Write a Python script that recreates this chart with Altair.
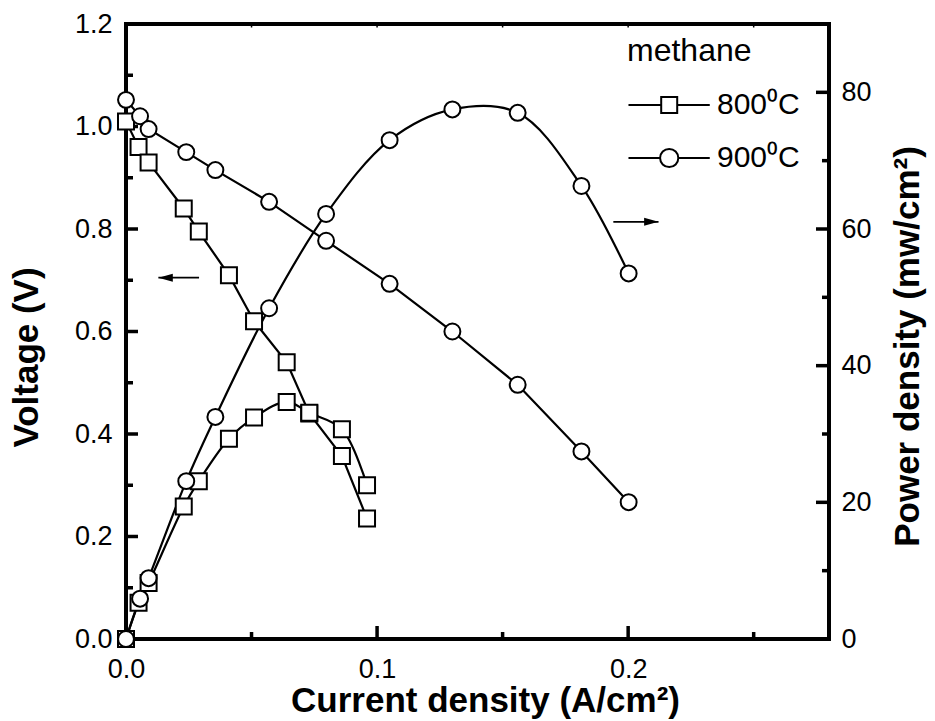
import altair as alt
import pandas as pd

# ---------------- data ----------------
series = ["800⁰C", "900⁰C"]

current_800 = [0.0, 0.005, 0.009, 0.023, 0.029, 0.041, 0.051, 0.064, 0.073, 0.086, 0.096]
voltage_800 = [1.01, 0.96, 0.93, 0.84, 0.795, 0.71, 0.62, 0.54, 0.44, 0.357, 0.235]
power_800 = [0.0, 5.3, 8.2, 19.4, 23.1, 29.3, 32.4, 34.7, 33.1, 30.7, 22.5]

current_900 = [0.0, 0.0056, 0.009, 0.024, 0.0356, 0.057, 0.0797, 0.105, 0.130, 0.156, 0.1814, 0.2002]
voltage_900 = [1.052, 1.02, 0.995, 0.95, 0.915, 0.853, 0.777, 0.693, 0.600, 0.496, 0.366, 0.267]
power_900 = [0.0, 5.9, 8.9, 23.1, 32.5, 48.4, 62.2, 73.0, 77.5, 77.0, 66.3, 53.5]

x_label_values = [0.0, 0.1, 0.2]
v_label_values = [0.0, 0.2, 0.4, 0.6, 0.8, 1.0, 1.2]
p_label_values = [0, 20, 40, 60, 80]

x_major_ticks = [0.1, 0.2]
x_minor_ticks = [0.05, 0.15, 0.25]
x_top_ticks = [0.05, 0.1, 0.15, 0.2, 0.25]
v_major_ticks = [0.2, 0.4, 0.6, 0.8, 1.0]
v_minor_ticks = [0.1, 0.3, 0.5, 0.7, 0.9, 1.1]
p_major_ticks = [20, 40, 60, 80]
p_minor_ticks = [10, 30, 50, 70]

# arrows (annotation, in data coordinates: current, voltage)
arrow_left_start = [0.0129]
arrow_left_end = [0.0291]
arrow_left_v = [0.705]
arrow_right_start = [0.1941]
arrow_right_end = [0.2121]
arrow_right_v = [0.814]

# ---------------- layout / style ----------------
W, H = 703, 615
FONT = "Liberation Sans, Arial, Helvetica, sans-serif"

xscale = alt.Scale(domain=[0, 0.28], nice=False, zero=False)
vscale = alt.Scale(domain=[0, 1.2], nice=False, zero=False)
pscale = alt.Scale(domain=[0, 90], nice=False, zero=False)

xaxis = alt.Axis(
    title="Current density (A/cm²)", values=x_label_values, format=".1f",
    ticks=False, tickSize=0, domain=False, grid=False, labelFlush=False, labelOverlap=False,
    labelPadding=17, labelFont=FONT, labelFontSize=27, labelColor="black",
    titleFont=FONT, titleFontSize=35, titleFontWeight="bold", titleColor="black",
    titleX=359, titleY=72, titleBaseline="alphabetic", titleAlign="center",
)
vaxis = alt.Axis(
    orient="left", title="Voltage (V)", values=v_label_values, format=".1f",
    ticks=False, tickSize=0, domain=False, grid=False, labelFlush=False, labelOverlap=False,
    labelPadding=14, labelFont=FONT, labelFontSize=27, labelColor="black",
    titleFont=FONT, titleFontSize=35, titleFontWeight="bold", titleColor="black",
    titleAngle=270, titleX=-89, titleY=333, titleBaseline="alphabetic", titleAlign="center",
)
paxis = alt.Axis(
    orient="right", title="Power density (mw/cm²)", values=p_label_values, format="d",
    ticks=False, tickSize=0, domain=False, grid=False, labelFlush=False, labelOverlap=False,
    labelPadding=12, labelFont=FONT, labelFontSize=27, labelColor="black",
    titleFont=FONT, titleFontSize=35, titleFontWeight="bold", titleColor="black",
    titleAngle=270, titleX=89, titleY=322, titleBaseline="alphabetic", titleAlign="center",
)


def X(field):
    return alt.X(f"{field}:Q", scale=xscale, axis=xaxis)


def YV(field, axis=None):
    return alt.Y(f"{field}:Q", scale=vscale, axis=axis)


def YP(field, axis=None):
    return alt.Y(f"{field}:Q", scale=pscale, axis=axis)


df800 = pd.DataFrame({"current": current_800, "voltage": voltage_800,
                      "power": power_800, "series": series[0]})
df900 = pd.DataFrame({"current": current_900, "voltage": voltage_900,
                      "power": power_900, "series": series[1]})
df = pd.concat([df800, df900], ignore_index=True)

LINE = dict(color="black", strokeWidth=2.2)
PT = dict(filled=True, fill="white", stroke="black", strokeWidth=2, opacity=1)

v_lines = alt.Chart(df).mark_line(**LINE).encode(
    x=X("current"), y=YV("voltage", vaxis), detail="series:N")
p_lines = alt.Chart(df).mark_line(interpolate="catmull-rom", **LINE).encode(
    x=X("current"), y=YP("power", paxis), detail="series:N")

v_sq = alt.Chart(df800).mark_point(shape="square", size=256, **PT).encode(
    x=X("current"), y=YV("voltage"))
v_ci = alt.Chart(df900).mark_point(shape="circle", size=254, **PT).encode(
    x=X("current"), y=YV("voltage"))
p_sq = alt.Chart(df800).mark_point(shape="square", size=256, **PT).encode(
    x=X("current"), y=YP("power"))
p_ci = alt.Chart(df900).mark_point(shape="circle", size=254, **PT).encode(
    x=X("current"), y=YP("power"))

TICK = dict(color="black", strokeWidth=3.5)
left_major = alt.Chart(pd.DataFrame({"t": v_major_ticks})).mark_rule(**TICK).encode(
    y=YV("t"), x=alt.value(0), x2=alt.value(12))
left_minor = alt.Chart(pd.DataFrame({"t": v_minor_ticks})).mark_rule(**TICK).encode(
    y=YV("t"), x=alt.value(0), x2=alt.value(7))
right_major = alt.Chart(pd.DataFrame({"t": p_major_ticks})).mark_rule(**TICK).encode(
    y=YP("t"), x=alt.value(W), x2=alt.value(W - 13))
right_minor = alt.Chart(pd.DataFrame({"t": p_minor_ticks})).mark_rule(**TICK).encode(
    y=YP("t"), x=alt.value(W), x2=alt.value(W - 7))
bottom_major = alt.Chart(pd.DataFrame({"t": x_major_ticks})).mark_rule(**TICK).encode(
    x=X("t"), y=alt.value(H), y2=alt.value(H - 13))
bottom_minor = alt.Chart(pd.DataFrame({"t": x_minor_ticks})).mark_rule(**TICK).encode(
    x=X("t"), y=alt.value(H), y2=alt.value(H - 7))
top_ticks = alt.Chart(pd.DataFrame({"t": x_top_ticks})).mark_rule(color="black", strokeWidth=1.5).encode(
    x=X("t"), y=alt.value(0), y2=alt.value(3.5))

arrows = pd.DataFrame({
    "a": arrow_left_start + arrow_right_start,
    "b": arrow_left_end + arrow_right_end,
    "v": arrow_left_v + arrow_right_v,
})
arrow_shafts = alt.Chart(arrows).mark_rule(color="black", strokeWidth=1.8).encode(
    x=X("a"), x2="b:Q", y=YV("v"))
head_left = alt.Chart(pd.DataFrame({"a": arrow_left_start, "v": arrow_left_v})).mark_point(
    shape="M0,0L3.6,-1L3.6,1Z", size=64, filled=True, color="black", opacity=1, strokeWidth=0).encode(
    x=X("a"), y=YV("v"))
head_right = alt.Chart(pd.DataFrame({"a": arrow_right_end, "v": arrow_right_v})).mark_point(
    shape="M0,0L-3.6,-1L-3.6,1Z", size=64, filled=True, color="black", opacity=1, strokeWidth=0).encode(
    x=X("a"), y=YV("v"))

# legend symbols: line with the marker in the middle (units of 8 px)
SQ_PATH = "M-1.69,0H2.4M4.4,0H8.47M2.4,-1H4.4V1H2.4Z"
CI_PATH = ("M-1.69,0H2.26M4.54,0H8.47M4.54,0A1.14,1.14,0,1,1,2.26,0"
           "A1.14,1.14,0,1,1,4.54,0Z")

legend_layer = alt.Chart(df).transform_filter("datum.current < 0").mark_point(
    size=256, filled=False, color="black", strokeWidth=2, opacity=1).encode(
    x=X("current"), y=YV("voltage"),
    shape=alt.Shape("series:N", scale=alt.Scale(domain=series, range=[SQ_PATH, CI_PATH]),
                    legend=alt.Legend(
                        title="methane", orient="none", legendX=501, legendY=12,
                        titleFont=FONT, titleFontSize=32, titleFontWeight="normal",
                        titleColor="black", titlePadding=22,
                        labelFont=FONT, labelFontSize=30, labelColor="black",
                        labelOffset=60, rowPadding=23, padding=0,
                        symbolSize=256, symbolStrokeWidth=2, symbolStrokeColor="black",
                        symbolOpacity=1)))

chart = alt.layer(
    v_lines, p_lines,
    left_major, left_minor, right_major, right_minor, bottom_major, bottom_minor, top_ticks,
    arrow_shafts, head_left, head_right,
    v_sq, v_ci, p_sq, p_ci,
    legend_layer,
).resolve_scale(y="independent").properties(
    width=W, height=H,
    autosize=alt.AutoSizeParams(type="none"),
    padding={"left": 126, "top": 24, "right": 106, "bottom": 82},
    background="white",
).configure_view(stroke="black", strokeWidth=4)

chart.save("out.html", embed_options={"renderer": "svg", "actions": False})
